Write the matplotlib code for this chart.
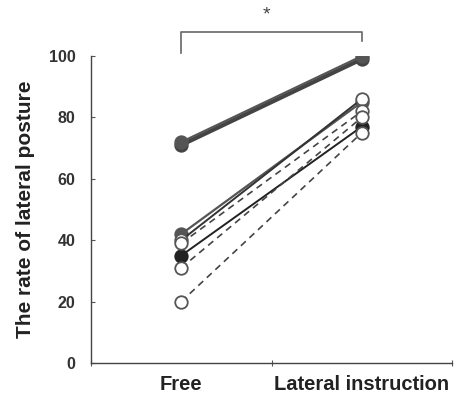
import matplotlib
matplotlib.use("Agg")
import matplotlib.pyplot as plt

plt.rcParams['font.family'] = ['Liberation Sans', 'DejaVu Sans']

conditions = ["Free", "Lateral instruction"]
# each subject: (free value, lateral value)
subj_free    = [71, 72, 42, 40, 35, 39, 31, 20]
subj_lateral = [99, 100, 85, 86, 77, 82, 80, 75]
subj_filled  = [True, True, True, False, True, False, False, False]
subj_dashed  = [False, False, False, False, False, True, True, True]
subj_color   = ["#444444", "#555555", "#555555", "#333333", "#222222", "#444444", "#444444", "#444444"]
subj_width   = [3.0, 1.5, 1.6, 1.4, 1.4, 1.2, 1.2, 1.2]
y_ticks = [0, 20, 40, 60, 80, 100]
sig_label = "*"

fig = plt.figure(figsize=(4.58, 4.01), dpi=100)
ax = fig.add_axes([0.1987, 0.0948, 0.7883, 0.7655])

xpos = [0.5, 1.5]
for i in range(len(subj_free)):
    ls = (0, (4, 3)) if subj_dashed[i] else '-'
    mfc = subj_color[i] if subj_filled[i] else 'white'
    ax.plot(xpos, [subj_free[i], subj_lateral[i]], linestyle=ls, color=subj_color[i],
            lw=subj_width[i], marker='o', markersize=9, markerfacecolor=mfc,
            markeredgecolor='#555555' if not subj_filled[i] else subj_color[i],
            markeredgewidth=1.3, zorder=3 if not subj_filled[i] else 2)

ax.set_xlim(0, 2)
ax.set_ylim(0, 100)
ax.spines['top'].set_visible(False)
ax.spines['right'].set_visible(False)
for s in ['left', 'bottom']:
    ax.spines[s].set_color('#444444')
    ax.spines[s].set_linewidth(1.0)

ax.set_yticks(y_ticks)
ax.set_yticklabels([str(v) for v in y_ticks], fontsize=11.5, fontweight='bold', color='#333333')
ax.tick_params(axis='y', direction='in', length=3, color='#555555', pad=11)

ax.set_xticks([0, 1, 2])
ax.set_xticklabels([])
ax.tick_params(axis='x', which='major', direction='inout', length=4, color='#555555')
ax.set_xticks(xpos, minor=True)
ax.set_xticklabels(conditions, minor=True, fontsize=14.5, fontweight='bold', color='#222222')
ax.tick_params(axis='x', which='minor', length=0, pad=9)

ax.set_ylabel("The rate of lateral posture", fontsize=15, fontweight='bold',
              color='#222222', labelpad=10)

# significance bracket
br_y = 1.078
trans = ax.get_xaxis_transform()
ax.plot([0.5, 0.5, 1.5, 1.5], [1.01, br_y, br_y, 1.05], color='#666666', lw=1.2,
        transform=trans, clip_on=False)
ax.text(0.97, 1.135, sig_label, transform=trans, ha='center', va='center',
        fontsize=14, color='#444444')

fig.savefig("out.png", dpi=100)
